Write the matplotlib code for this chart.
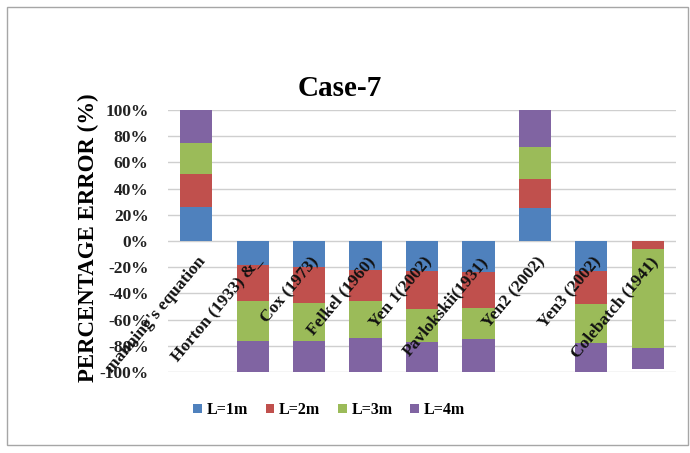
import matplotlib
matplotlib.use("Agg")
import matplotlib.pyplot as plt
from matplotlib.patches import Rectangle
from matplotlib.transforms import offset_copy
import numpy as np

# Categories (methods) and percentage error for each channel length
methods = ["manning's equation", "Horton (1933) &_", "Cox (1973)", "Felkel (1960)",
           "Yen 1(2002)", "Pavlokskii(1931)", "Yen2 (2002)", "Yen3 (2002)",
           "Colebatch (1941)"]
series_names = ["L=1m", "L=2m", "L=3m", "L=4m"]
err_l1 = [26, -18, -20, -22, -23, -24, 25, -23, 0]
err_l2 = [25, -28, -27, -24, -29, -27, 22, -25, -6]
err_l3 = [24, -30, -29, -28, -25, -24, 25, -30, -76]
err_l4 = [25, -24, -24, -26, -23, -25, 28, -22, -16]
yticks = [-100, -80, -60, -40, -20, 0, 20, 40, 60, 80, 100]
title = "Case-7"
ylabel = "PERCENTAGE ERROR (%)"

colors = ["#4F81BD", "#C0504D", "#9BBB59", "#8064A2"]
serif = ["Liberation Serif", "DejaVu Serif"]

fig = plt.figure(figsize=(6.9, 4.53), dpi=100)
fig.patch.set_facecolor("white")

# outer chart frame
fig.patches.append(Rectangle((7 / 690, 1 - 445 / 453), 681 / 690, 438 / 453,
                             transform=fig.transFigure, fill=False,
                             edgecolor="#A6A6A6", linewidth=1.0))

ax = fig.add_axes([168 / 690, 1 - 372 / 453, 508 / 690, 262 / 453])
x = np.arange(len(methods))
pos_base = np.zeros(len(methods))
neg_base = np.zeros(len(methods))
for vals, name, col in zip([err_l1, err_l2, err_l3, err_l4], series_names, colors):
    v = np.array(vals, dtype=float)
    bottom = np.where(v >= 0, pos_base, neg_base)
    ax.bar(x, v, bottom=bottom, width=0.57, color=col, label=name, zorder=2)
    pos_base += np.where(v >= 0, v, 0)
    neg_base += np.where(v < 0, v, 0)

ax.set_xlim(-0.5, len(methods) - 0.5)
ax.set_ylim(-100, 100)
ax.set_yticks(yticks)
ax.set_yticklabels([f"{t}%" for t in yticks], fontfamily=serif,
                   fontweight="bold", fontsize=12.5, color="#222222")
ax.tick_params(axis="y", length=0, pad=14)
ax.set_xticks([])
ax.yaxis.grid(True, color="#CFCFCF", linewidth=1.0, zorder=0)
ax.set_axisbelow(True)
for s in ax.spines.values():
    s.set_visible(False)

# category labels hang from the zero line
lab_tr = offset_copy(ax.transData, fig=fig, x=1, y=-13, units="dots")
for xi, name in zip(x, methods):
    ax.text(xi, 0, name, transform=lab_tr, rotation=50, rotation_mode="anchor",
            ha="right", va="top", fontfamily=serif, fontweight="bold",
            fontsize=12.5, color="#111111", zorder=5)

fig.text(340 / 690, 1 - 88 / 453, title, ha="center", va="center",
         fontfamily=serif, fontweight="bold", fontsize=21)
fig.text(88 / 690, 1 - 238 / 453, ylabel, ha="center", va="center",
         rotation=90, fontfamily=serif, fontweight="bold", fontsize=16.5)

handles, labels = ax.get_legend_handles_labels()
fig.legend(handles, labels, loc="center", bbox_to_anchor=(329 / 690, 1 - 410 / 453),
           ncol=4, frameon=False, handlelength=0.55, handleheight=0.55,
           handletextpad=0.3, columnspacing=1.1,
           prop={"family": serif, "weight": "bold", "size": 11.5})

fig.savefig("out.png", dpi=100, facecolor="white")
